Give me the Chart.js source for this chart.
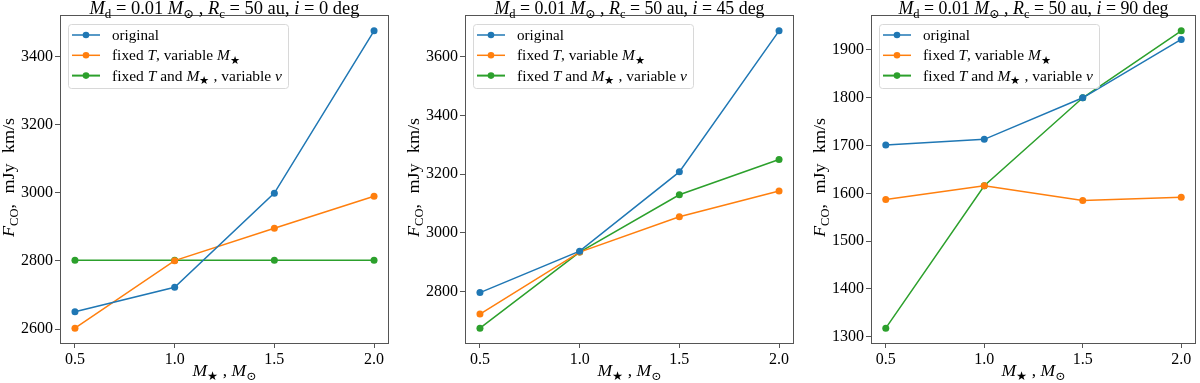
<!DOCTYPE html>
<html><head><meta charset="utf-8">
<script src="https://cdn.jsdelivr.net/npm/chart.js@4.4.0/dist/chart.umd.min.js"></script>
<style>
html,body{margin:0;padding:0;background:#fff;width:1200px;height:383px;overflow:hidden}
.p{position:absolute;top:0;height:383px}
canvas{display:block}
</style></head><body>
<div class="p" style="left:0;width:400px"><canvas id="c0" width="400" height="383"></canvas></div>
<div class="p" style="left:400px;width:400px"><canvas id="c1" width="400" height="383"></canvas></div>
<div class="p" style="left:800px;width:400px"><canvas id="c2" width="400" height="383"></canvas></div>
<script>
// ---- data ----
const masses = [0.5, 1.0, 1.5, 2.0];
const xTicks = [0.5, 1.0, 1.5, 2.0];
const inclinations = [0, 45, 90];
const seriesNames = ['original', 'fixed T, variable M★', 'fixed T and M★, variable v'];
const original0 = [2651, 2723, 2999, 3475];
const fixedT0   = [2603, 2801, 2896, 2990];
const fixedTM0  = [2802, 2802, 2802, 2802];
const original45 = [2797, 2938, 3208, 3688];
const fixedT45   = [2724, 2935, 3055, 3143];
const fixedTM45  = [2676, 2935, 3130, 3250];
const original90 = [1701, 1713, 1800, 1922];
const fixedT90   = [1587, 1616, 1585, 1592];
const fixedTM90  = [1318, 1616, 1800, 1940];
const yTicks0  = [2600, 2800, 3000, 3200, 3400];
const yTicks45 = [2800, 3000, 3200, 3400, 3600];
const yTicks90 = [1300, 1400, 1500, 1600, 1700, 1800, 1900];

const COLORS = ['#1f77b4', '#ff7f0e', '#2ca02c'];
const FONT = '"Liberation Serif", "DejaVu Serif", serif';

function richItems(ctx, parts, size) {
  return parts.map(([t, s]) => {
    const sub = s[0] === 's';
    const it = s[s.length - 1] === 'i';
    const fs = sub ? size * 0.7 : size;
    const font = (it ? 'italic ' : '') + fs + 'px ' + FONT;
    ctx.font = font;
    return {t, font, w: ctx.measureText(t).width, dy: sub ? size * 0.22 : 0};
  });
}
// draws mixed-style text; optional target width reached by mild horizontal scale + extra word spacing
function drawRich(ctx, parts, x, y, size, align, targetW, maxScale) {
  const items = richItems(ctx, parts, size);
  const total = items.reduce((a, b) => a + b.w, 0);
  let sx = 1, extra = 0;
  if (targetW) {
    sx = Math.min(targetW / total, maxScale || 1.12);
    const nSp = items.reduce((n, it) => n + (it.t.match(/ /g) || []).length, 0);
    extra = nSp ? (targetW - total * sx) / sx / nSp : 0;
  }
  const W = targetW || total;
  const start = align === 'center' ? x - W / 2 : (align === 'right' ? x - W : x);
  ctx.save();
  ctx.translate(start, y);
  ctx.scale(sx, 1);
  ctx.textAlign = 'left';
  ctx.textBaseline = 'alphabetic';
  ctx.fillStyle = '#000';
  let cx = 0;
  for (const it of items) {
    ctx.font = it.font;
    const words = it.t.split(/( )/);
    for (const wd of words) {
      if (wd === '') continue;
      if (wd === ' ') { cx += ctx.measureText(' ').width + extra; continue; }
      ctx.fillText(wd, cx, it.dy);
      cx += ctx.measureText(wd).width;
    }
  }
  ctx.restore();
  return W;
}

const legendParts = [
  [['original', 'r']],
  [['fixed ', 'r'], ['T', 'i'], [', variable ', 'r'], ['M', 'i'], ['★', 'sr']],
  [['fixed ', 'r'], ['T', 'i'], [' and ', 'r'], ['M', 'i'], ['★', 'sr'], [' , variable ', 'r'], ['v', 'i']]
];
const legendWidths = [47, 128, 170];

const deco = {
  id: 'deco',
  afterDraw(chart) {
    const ctx = chart.ctx, a = chart.chartArea, inc = chart.options.plugins.deco.inc;
    ctx.save();
    // frame
    ctx.strokeStyle = '#555'; ctx.lineWidth = 1;
    ctx.strokeRect(Math.round(a.left) + 0.5, Math.round(a.top) - 0.5, Math.round(a.right - a.left) - 1, Math.round(a.bottom - a.top) + 1);
    // title
    const cxm = (a.left + a.right) / 2;
    drawRich(ctx, [['M', 'i'], ['d', 'sr'], [' = 0.01 ', 'r'], ['M', 'i'], ['⊙', 'sr'], [' , ', 'r'], ['R', 'i'], ['c', 'sr'], [' = 50 au, ', 'r'], ['i', 'i'], [' = ' + inc + ' deg', 'r']], cxm, 14, 18, 'center', 270);
    // x title
    drawRich(ctx, [['M', 'i'], ['★', 'sr'], [' , ', 'r'], ['M', 'i'], ['⊙', 'sr']], cxm, 376, 17, 'center', 64);
    // y title
    ctx.save();
    ctx.translate(a.left - 46, (a.top + a.bottom) / 2 - 2);
    ctx.rotate(-Math.PI / 2);
    drawRich(ctx, [['F', 'i'], ['CO', 'sr'], [', mJy km/s', 'r']], 0, 0, 17, 'center', 119, 1.06);
    ctx.restore();
    // legend
    const lx = a.left + 8, ly = a.top + 8;
    const bw = 44 + Math.max(...legendWidths) + 6, bh = 64;
    ctx.beginPath();
    ctx.roundRect(lx + 0.5, ly + 0.5, bw, bh, 3);
    ctx.fillStyle = 'rgba(255,255,255,0.8)'; ctx.fill();
    ctx.strokeStyle = '#d8d8d8'; ctx.lineWidth = 1; ctx.stroke();
    legendParts.forEach((p, k) => {
      const ry = ly + 11 + k * 20.3;
      ctx.strokeStyle = COLORS[k]; ctx.lineWidth = k === 2 ? 2 : 1.5;
      ctx.beginPath(); ctx.moveTo(lx + 4, ry); ctx.lineTo(lx + 32, ry); ctx.stroke();
      ctx.fillStyle = COLORS[k];
      ctx.beginPath(); ctx.arc(lx + 18, ry, 3.3, 0, Math.PI * 2); ctx.fill();
      drawRich(ctx, p, lx + 44, ry + 5, 15, 'left', legendWidths[k]);
    });
    ctx.restore();
  }
};

const panels = [
  {id: 'c0', inc: inclinations[0], series: [original0, fixedT0, fixedTM0], yTicks: yTicks0, yMin: 2559.4, yMax: 3518.6, left: 60, right: 11},
  {id: 'c1', inc: inclinations[1], series: [original45, fixedT45, fixedTM45], yTicks: yTicks45, yMin: 2625.4, yMax: 3738.6, left: 65, right: 6},
  {id: 'c2', inc: inclinations[2], series: [original90, fixedT90, fixedTM90], yTicks: yTicks90, yMin: 1286.9, yMax: 1971.1, left: 71, right: 1}
];

const tickFont = {family: FONT, size: 16};
const gridOpt = {drawOnChartArea: false, drawTicks: true, tickLength: 5, tickColor: '#555', tickWidth: 1};

panels.forEach(p => {
  new Chart(document.getElementById(p.id), {
    type: 'line',
    data: {
      datasets: p.series.map((vals, k) => ({
        label: seriesNames[k],
        data: masses.map((m, j) => ({x: m, y: vals[j]})),
        borderColor: COLORS[k], backgroundColor: COLORS[k],
        pointBackgroundColor: COLORS[k], pointBorderColor: COLORS[k],
        pointRadius: 3.5, pointBorderWidth: 0, borderWidth: 1.5, tension: 0, fill: false
      }))
    },
    options: {
      responsive: false, animation: false, devicePixelRatio: 1,
      layout: {padding: {left: 0, right: p.right, top: 16, bottom: 0}},
      plugins: {legend: {display: false}, tooltip: {enabled: false}, title: {display: false}, deco: {inc: p.inc}},
      scales: {
        x: {
          type: 'linear', min: 0.425, max: 2.075,
          afterBuildTicks: s => { s.ticks = xTicks.map(v => ({value: v})); },
          afterFit: s => { s.height = 40; },
          ticks: {font: tickFont, color: '#000', padding: 2, maxRotation: 0, callback: v => Number(v).toFixed(1)},
          grid: gridOpt, border: {display: false}
        },
        y: {
          type: 'linear', min: p.yMin, max: p.yMax,
          afterBuildTicks: s => { s.ticks = p.yTicks.map(v => ({value: v})); },
          afterFit: s => { s.width = p.left; },
          ticks: {font: tickFont, color: '#000', padding: 2, callback: v => String(v)},
          grid: gridOpt, border: {display: false}
        }
      }
    },
    plugins: [deco]
  });
});
</script>
</body></html>
